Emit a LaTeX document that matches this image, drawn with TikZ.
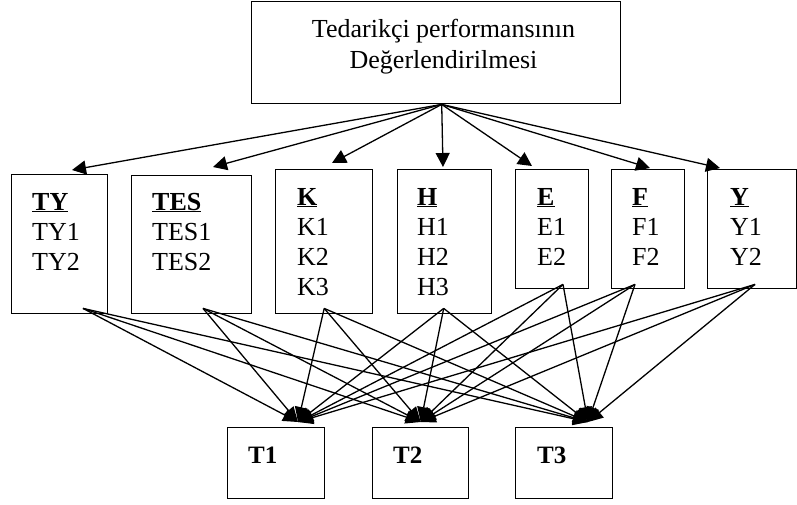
\documentclass[tikz,border=0pt]{standalone}
\usepackage{fontspec}
\setmainfont{Liberation Serif}
\usetikzlibrary{arrows.meta,calc}
\begin{document}
\begin{tikzpicture}[x=1pt,y=-1pt,
  box/.style={draw,line width=1.4pt,rectangle,inner sep=0pt,anchor=north west},
  lbl/.style={anchor=base west,inner sep=0pt,font=\fontsize{26}{30}\selectfont},
  hd/.style={anchor=base west,inner sep=0pt,font=\fontsize{26}{30}\selectfont\bfseries},
  tl/.style={anchor=base west,inner sep=0pt,font=\fontsize{25}{28}\selectfont\bfseries},
  arr/.style={line width=1.3pt,-{Triangle[length=14pt,width=14pt]}},
  link/.style={line width=1.3pt,-{Triangle[length=15pt,width=13pt]}}]
\useasboundingbox (0,0) rectangle (797,504);
% top box
\node[box,minimum width=369pt,minimum height=102pt] (top) at (251,1) {};
\node[anchor=base,inner sep=0pt,font=\fontsize{26}{30}\selectfont] (tt1) at (443.5,37) {Tedarikçi performansının};
\node[anchor=base,inner sep=0pt,font=\fontsize{26}{30}\selectfont] (tt2) at (443.5,68) {Değerlendirilmesi};
% middle boxes
\node[box,minimum width=96pt,minimum height=139pt] (ty) at (11,174) {};
\node[box,minimum width=120pt,minimum height=138pt] (tes) at (131,175) {};
\node[box,minimum width=97pt,minimum height=144pt] (k) at (275,169) {};
\node[box,minimum width=94pt,minimum height=144pt] (h) at (397,169) {};
\node[box,minimum width=73pt,minimum height=119pt] (e) at (515,169) {};
\node[box,minimum width=73pt,minimum height=119pt] (f) at (611,169) {};
\node[box,minimum width=89pt,minimum height=119pt] (y) at (707,169) {};
% texts
\node[hd] (tyh) at (32,210) {\underline{TY}};
\node[lbl] (ty1) at (32,240) {TY1};
\node[lbl] (ty2) at (32,270) {TY2};
\node[hd] (tesh) at (152,210) {\underline{TES}};
\node[lbl] (tes1) at (152,240) {TES1};
\node[lbl] (tes2) at (152,270) {TES2};
\node[hd] (kh) at (297,205) {\underline{K}};
\node[lbl] (k1) at (297,235) {K1};
\node[lbl] (k2) at (297,265) {K2};
\node[lbl] (k3) at (297,295) {K3};
\node[hd] (hh) at (417,205) {\underline{H}};
\node[lbl] (h1) at (417,235) {H1};
\node[lbl] (h2) at (417,265) {H2};
\node[lbl] (h3) at (417,295) {H3};
\node[hd] (eh) at (537,205) {\underline{E}};
\node[lbl] (e1) at (537,235) {E1};
\node[lbl] (e2) at (537,265) {E2};
\node[hd] (fh) at (632,205) {\underline{F}};
\node[lbl] (f1) at (632,235) {F1};
\node[lbl] (f2) at (632,265) {F2};
\node[hd] (yh) at (730,205) {\underline{Y}};
\node[lbl] (y1) at (730,235) {Y1};
\node[lbl] (y2) at (730,265) {Y2};
% bottom boxes
\node[box,minimum width=97pt,minimum height=71pt] (t1) at (227,427) {};
\node[box,minimum width=96pt,minimum height=71pt] (t2) at (372,427) {};
\node[box,minimum width=97pt,minimum height=71pt] (t3) at (515,427) {};
\node[tl] (t1l) at (248,463) {T1};
\node[tl] (t2l) at (393,463) {T2};
\node[tl] (t3l) at (537,463) {T3};
% top arrows
\coordinate (src) at ($(top.south)+(5.5,0)$);
\draw[arr] (src) -- ($(ty.north west)+(61,-4)$);
\draw[arr] (src) -- ($(tes.north west)+(82,-8)$);
\draw[arr] (src) -- ($(k.north west)+(57,-6)$);
\draw[arr] (src) -- ($(h.north west)+(46,-2)$);
\draw[arr] (src) -- ($(e.north west)+(17,-3)$);
\draw[arr] (src) -- ($(f.north west)+(39,-1)$);
\draw[arr] (src) -- ($(y.north west)+(13,-1)$);
% bottom links
\coordinate (sTY) at ($(ty.south west)+(72,-6)$);
\coordinate (sTES) at ($(tes.south west)+(72,-6)$);
\coordinate (sK) at ($(k.south)+(0,-6)$);
\coordinate (sH) at ($(h.south)+(-1,-6)$);
\coordinate (sE) at ($(e.south west)+(48,-5)$);
\coordinate (sF) at ($(f.south west)+(24,-5)$);
\coordinate (sY) at ($(y.south west)+(48,-5)$);
\coordinate (dT1) at ($(t1.north west)+(71,-5)$);
\coordinate (dT2) at ($(t2.north)+(0,-5)$);
\coordinate (dT3) at ($(t3.north west)+(73,-5)$);
\foreach \s in {sTY,sTES,sK,sH,sE,sF,sY}
  \foreach \t in {dT1,dT2,dT3}
    \draw[link] (\s) -- (\t);
\end{tikzpicture}
\end{document}
